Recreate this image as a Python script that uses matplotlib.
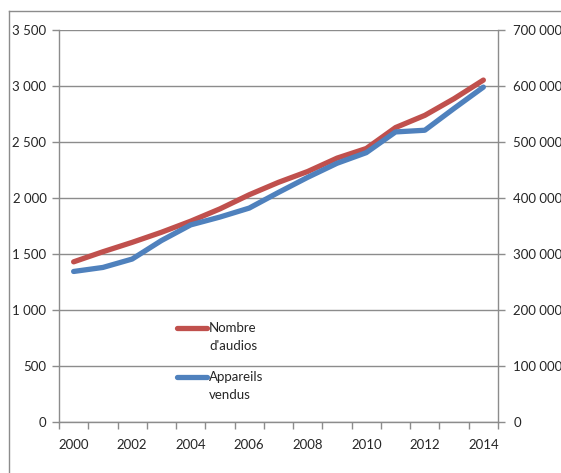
import numpy as np
import matplotlib
matplotlib.use("Agg")
import matplotlib.pyplot as plt
from matplotlib.lines import Line2D
from matplotlib.ticker import FuncFormatter, FixedLocator

# data
years = list(range(2000, 2015))
nombre_audios = [1430, 1520, 1604, 1694, 1793, 1903, 2029, 2140, 2237, 2356,
                 2442, 2629, 2738, 2887, 3053]
appareils_vendus = [268800, 276000, 291000, 324000, 352000, 366000, 382000,
                    410000, 437000, 462000, 481000, 518000, 521000, 560000, 598000]
left_ticks = [0, 500, 1000, 1500, 2000, 2500, 3000, 3500]
right_ticks = [0, 100000, 200000, 300000, 400000, 500000, 600000, 700000]
label_years = [2000, 2002, 2004, 2006, 2008, 2010, 2012, 2014]

RED = "#C0504D"
BLUE = "#4F81BD"
GRID = "#8C8C8C"
TEXT = "#262626"

plt.rcParams.update({
    "font.family": ["Lato", "DejaVu Sans"],
    "font.size": 9.5,
    "text.color": TEXT,
    "xtick.color": GRID,
    "ytick.color": GRID,
    "xtick.labelcolor": TEXT,
    "ytick.labelcolor": TEXT,
})


def fmt_space(v, pos=None):
    return f"{int(v):,}".replace(",", " ")


W, H = 561, 473
fig = plt.figure(figsize=(W / 100, H / 100), dpi=100)
ax = fig.add_axes([59 / W, 1 - 422 / H, (498 - 59) / W, (422 - 30) / H])
ax2 = ax.twinx()

x = np.arange(len(years))
ax.plot(x, nombre_audios, color=RED, lw=3.8, solid_capstyle="round",
        solid_joinstyle="round", zorder=3)
ax2.plot(x, appareils_vendus, color=BLUE, lw=3.8, solid_capstyle="round",
         solid_joinstyle="round", zorder=3)

ax.set_xlim(-0.5, len(years) - 0.5)
ax.set_ylim(0, 3500)
ax2.set_ylim(0, 700000)
ax.set_yticks(left_ticks)
ax2.set_yticks(right_ticks)
ax.yaxis.set_major_formatter(FuncFormatter(fmt_space))
ax2.yaxis.set_major_formatter(FuncFormatter(fmt_space))

# category axis: ticks between categories, labels every other year
ax.xaxis.set_major_locator(FixedLocator(np.arange(-0.5, len(years), 1.0)))
ax.xaxis.set_major_formatter(FuncFormatter(lambda v, p: ""))
ax.xaxis.set_minor_locator(FixedLocator([years.index(y) for y in label_years]))
ax.set_xticklabels([str(y) for y in label_years], minor=True)
ax.tick_params(axis="x", which="major", direction="out", length=5, width=1)
ax.tick_params(axis="x", which="minor", length=0, pad=12)
ax.tick_params(axis="y", direction="out", length=5, width=1, pad=4)
ax2.tick_params(axis="y", direction="out", length=5, width=1, pad=6)

ax.grid(axis="y", color=GRID, lw=1)
ax.set_axisbelow(True)
for a in (ax, ax2):
    a.spines["top"].set_visible(False)
    for s in ("left", "right", "bottom"):
        a.spines[s].set_color(GRID)
        a.spines[s].set_linewidth(1)
ax.spines["right"].set_visible(False)
ax2.spines["left"].set_visible(False)
ax2.spines["bottom"].set_visible(False)

# legend inside the plot area
def legend_entry(y_px, color, lines):
    fig.add_artist(Line2D([177 / W, 207 / W], [1 - y_px / H, 1 - y_px / H],
                          color=color, lw=3.8, solid_capstyle="round"))
    for i, t in enumerate(lines):
        fig.text(209 / W, 1 - (y_px + i * 18) / H, t, va="center", ha="left",
                 fontsize=9.5)

legend_entry(328, RED, ["Nombre", "d'audios"])
legend_entry(377, BLUE, ["Appareils", "vendus"])

# outer chart frame
fig.add_artist(Line2D([9 / W, 9 / W], [1 - 11 / H, 0], color=GRID, lw=1))
fig.add_artist(Line2D([9 / W, 1], [1 - 11 / H, 1 - 11 / H], color=GRID, lw=1))

fig.savefig("out.png", dpi=100, facecolor="white")
